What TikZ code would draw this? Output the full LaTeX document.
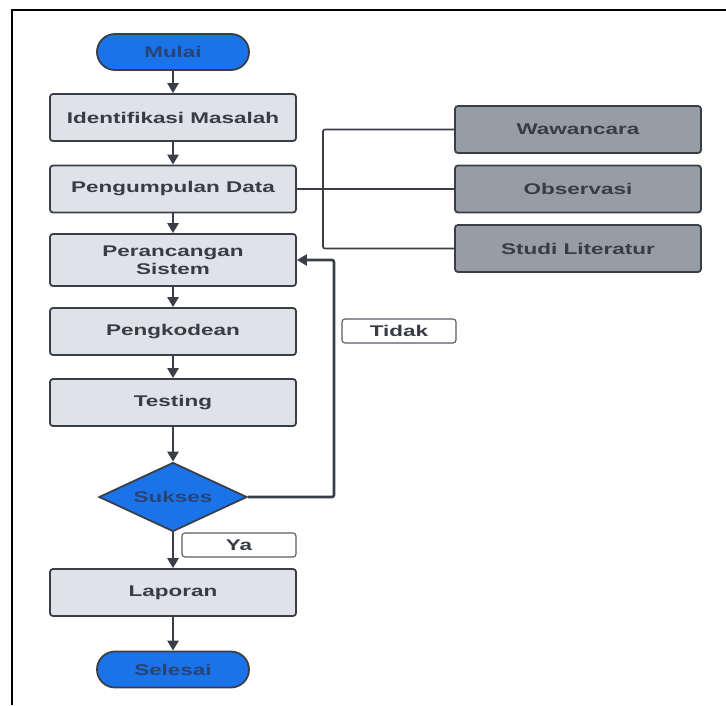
\documentclass[tikz,border=0pt]{standalone}
\usepackage{fontspec}
\setmainfont[FakeStretch=1.45]{Liberation Sans}
\usetikzlibrary{arrows.meta,shapes.geometric}
\definecolor{lightfill}{HTML}{DFE3E8}
\definecolor{grayfill}{HTML}{979DA6}
\definecolor{bluefill}{HTML}{1A73E8}
\definecolor{edge}{HTML}{3A3F47}
\definecolor{txt}{HTML}{373D45}
\definecolor{bluetxt}{HTML}{2A4372}
\tikzset{
  base/.style={draw=edge, line width=1.8pt, inner sep=0pt, align=center,
    font=\fontsize{15.5}{18.5}\selectfont\bfseries, text=txt},
  stepbox/.style={base, rectangle, rounded corners=3pt, fill=lightfill,
    minimum width=246pt, minimum height=47pt},
  databox/.style={base, rectangle, rounded corners=3pt, fill=grayfill,
    minimum width=246pt, minimum height=47pt},
  term/.style={base, rectangle, rounded corners=18pt, fill=bluefill, text=bluetxt,
    minimum width=152pt, minimum height=36pt},
  decision/.style={base, diamond, aspect=2.15, fill=bluefill, text=bluetxt,
    minimum width=148pt, minimum height=69pt},
  tag/.style={draw=edge!85, line width=1.1pt, rounded corners=3pt, fill=white,
    inner sep=0pt, minimum width=114pt, minimum height=24pt,
    font=\fontsize{15.5}{17}\selectfont\bfseries, text=txt},
  flow/.style={draw=edge, line width=2.6pt, -{Triangle[length=10pt,width=11pt]}},
  link/.style={draw=edge, line width=1.7pt, rounded corners=2pt},
}
\begin{document}
\begin{tikzpicture}[x=1pt,y=-1pt]
\useasboundingbox (0,0) rectangle (726,705);
\fill[white] (0,0) rectangle (726,705);
% frame
\draw[black, line width=1.6pt] (12,705) -- (12,10) -- (726,10);

\node[term] (mulai) at (173,52) {Mulai};
\node[stepbox] (ident) at (173,117.5) {Identifikasi Masalah};
\node[stepbox] (kumpul) at (173,189) {Pengumpulan Data};
\node[stepbox, minimum height=52pt] (rancang) at (173,260) {Perancangan\\Sistem};
\node[stepbox] (kode) at (173,331.5) {Pengkodean};
\node[stepbox] (test) at (173,402.5) {Testing};
\node[decision] (sukses) at (173,497) {Sukses};
\node[stepbox] (lapor) at (173,592.5) {Laporan};
\node[term] (selesai) at (173,669.5) {Selesai};

\node[databox] (wawan) at (578,129.5) {Wawancara};
\node[databox] (obs) at (578,189) {Observasi};
\node[databox] (studi) at (578,248.5) {Studi Literatur};

\node[tag] (tidak) at (399,331) {Tidak};
\node[tag] (ya) at (239,545) {Ya};

\draw[flow] (mulai) -- (ident);
\draw[flow] (ident) -- (kumpul);
\draw[flow] (kumpul) -- (rancang);
\draw[flow] (rancang) -- (kode);
\draw[flow] (kode) -- (test);
\draw[flow] (test) -- (sukses);
\draw[flow] (sukses) -- (lapor);
\draw[flow] (lapor) -- (selesai);

\coordinate (back) at (334,497);
\draw[flow, rounded corners=2pt] (sukses.east) -- (back) |- (rancang.east);

\coordinate (bx) at (323,189);
\draw[link] (kumpul.east) -- (obs.west);
\draw[link] (wawan.west) -| (bx |- studi.west) -- (studi.west);
\end{tikzpicture}
\end{document}
